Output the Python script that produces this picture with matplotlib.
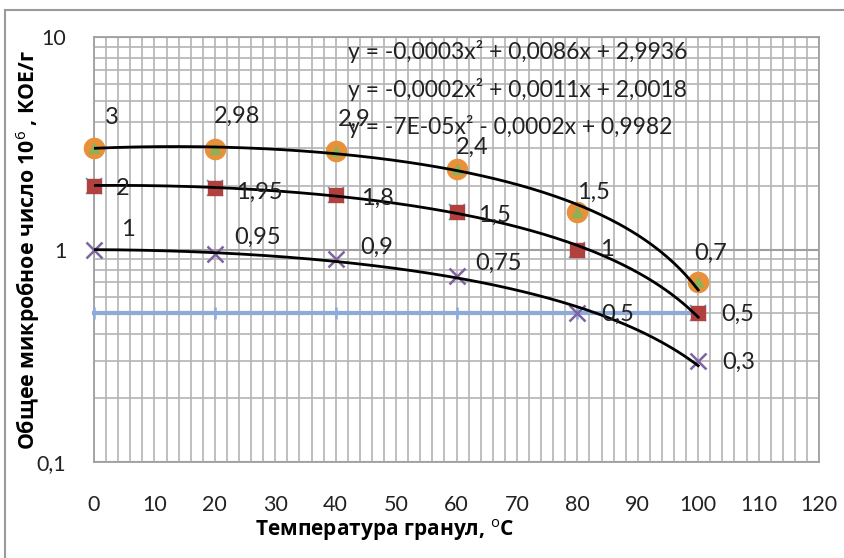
import numpy as np
import matplotlib
matplotlib.use("Agg")
import matplotlib.pyplot as plt
from matplotlib.ticker import MultipleLocator, LogLocator, FixedLocator, NullFormatter
from matplotlib.patches import Rectangle

plt.rcParams['font.family'] = ['Lato', 'DejaVu Sans']
plt.rcParams['mathtext.fontset'] = 'custom'
plt.rcParams['mathtext.rm'] = 'Open Sans'
plt.rcParams['mathtext.bf'] = 'Open Sans:bold'

# данные
temp = [0, 20, 40, 60, 80, 100]
s1 = [3, 2.98, 2.9, 2.4, 1.5, 0.7]
s2 = [2, 1.95, 1.8, 1.5, 1, 0.5]
s3 = [1, 0.95, 0.9, 0.75, 0.5, 0.3]
base = [0.5, 0.5, 0.5, 0.5, 0.5, 0.5]

lab1 = ['3', '2,98', '2,9', '2,4', '1,5', '0,7']
lab2 = ['2', '1,95', '1,8', '1,5', '1', '0,5']
lab3 = ['1', '0,95', '0,9', '0,75', '0,5', '0,3']

equations = ['y = -0,0003x² + 0,0086x + 2,9936',
             'y = -0,0002x² + 0,0011x + 2,0018',
             'y = -7E-05x² - 0,0002x + 0,9982']

xticks = [0, 10, 20, 30, 40, 50, 60, 70, 80, 90, 100, 110, 120]
yticks = [0.1, 1, 10]
ytick_labels = ['0,1', '1', '10']

# смещения подписей (пиксели)
off1 = [(18, 31), (22, 32), (19, 32), (16, 21), (16, 20), (12, 29)]
off2 = [(22, -3), (21, -4), (25, -3), (22, -3), (23, 0), (23, -1)]
off3 = [(27, 20), (19, 17), (25, 12), (19, 13), (24, -1), (24, -2)]

fig = plt.figure(figsize=(8.45, 5.58), dpi=100)
ax = fig.add_axes([94/845, 96/558, 725/845, 425/558])

ax.set_yscale('log')
ax.set_xlim(0, 120)
ax.set_ylim(0.1, 10)

ax.xaxis.set_major_locator(FixedLocator(xticks))
ax.xaxis.set_minor_locator(MultipleLocator(2))
ax.yaxis.set_major_locator(FixedLocator(yticks))
ax.yaxis.set_minor_locator(LogLocator(base=10, subs=np.arange(2, 10)))
ax.yaxis.set_minor_formatter(NullFormatter())
ax.set_xticklabels([str(t) for t in xticks])
ax.set_yticklabels(ytick_labels)

ax.grid(which='major', axis='y', color='#9e9e9e', lw=1.5)
ax.grid(which='minor', axis='y', color='#b4b4b4', lw=1.2)
ax.grid(which='both', axis='x', color='#b4b4b4', lw=1.2)
ax.set_axisbelow(True)
for s in ax.spines.values():
    s.set_color('#a0a0a0')
    s.set_linewidth(1.3)
ax.tick_params(which='both', length=0)
ax.tick_params(axis='x', pad=24, labelsize=15.5, colors='#222222')
ax.tick_params(axis='y', pad=20, labelsize=15.5, colors='#222222')

# синяя линия
ax.plot(temp, base, color='#8eaad8', lw=3, marker='|', ms=9, mew=1.8, zorder=3, clip_on=False)

# маркеры
ax.plot(temp, s1, ls='none', marker='o', ms=14.5, color='#e8913a', zorder=4, clip_on=False)
ax.plot(temp, s1, ls='none', marker='^', ms=7.5, color='#8fb054', zorder=5, clip_on=False)
ax.plot(temp, s2, ls='none', marker='x', ms=12, mew=1.3, color='#4bacc6', zorder=4, clip_on=False)
ax.plot(temp, s2, ls='none', marker='s', ms=10.5, color='#b0413e', zorder=5, clip_on=False)
ax.plot(temp, s3, ls='none', marker='x', ms=12, mew=1.8, color='#7f63a0', zorder=4, clip_on=False)

# полиномиальные линии тренда
xx = np.linspace(0, 100, 200)
for s in (s1, s2, s3):
    c = np.polyfit(temp, s, 2)
    ax.plot(xx, np.polyval(c, xx), color='black', lw=2, zorder=6)

# подписи данных
for x, y, t, o in zip(temp, s1, lab1, off1):
    ax.annotate(t, (x, y), xytext=o, textcoords='offset pixels',
                ha='center', va='center', fontsize=17, color='#222222', zorder=7)
for x, y, t, o in zip(temp, s2, lab2, off2):
    ax.annotate(t, (x, y), xytext=o, textcoords='offset pixels',
                ha='left', va='center', fontsize=17, color='#222222', zorder=7)
for x, y, t, o in zip(temp, s3, lab3, off3):
    ax.annotate(t, (x, y), xytext=o, textcoords='offset pixels',
                ha='left', va='center', fontsize=17, color='#222222', zorder=7)

for i, eq in enumerate(equations):
    ax.text(0.350, 0.965 - i * 0.088, eq, transform=ax.transAxes,
            ha='left', va='center', fontsize=16.5, color='#222222', zorder=7)

fig.text(28/845, 1 - 250/558, 'Общее микробное число 10$^{6}$ , КОЕ/г',
         rotation=90, ha='center', va='center', fontsize=15.3, fontweight='bold',
         family=['Open Sans', 'DejaVu Sans'])
fig.text(385/845, 1 - 530/558, 'Температура гранул, $^{\\mathrm{o}}$С',
         ha='center', va='center', fontsize=15, fontweight='bold',
         family=['Open Sans', 'DejaVu Sans'])

fig.patches.append(Rectangle((5/845, -0.1), 2, 1.1 - 10/558, transform=fig.transFigure,
                             fill=False, edgecolor='#9a9a9a', lw=1.5))

fig.savefig('out.png', dpi=100)
